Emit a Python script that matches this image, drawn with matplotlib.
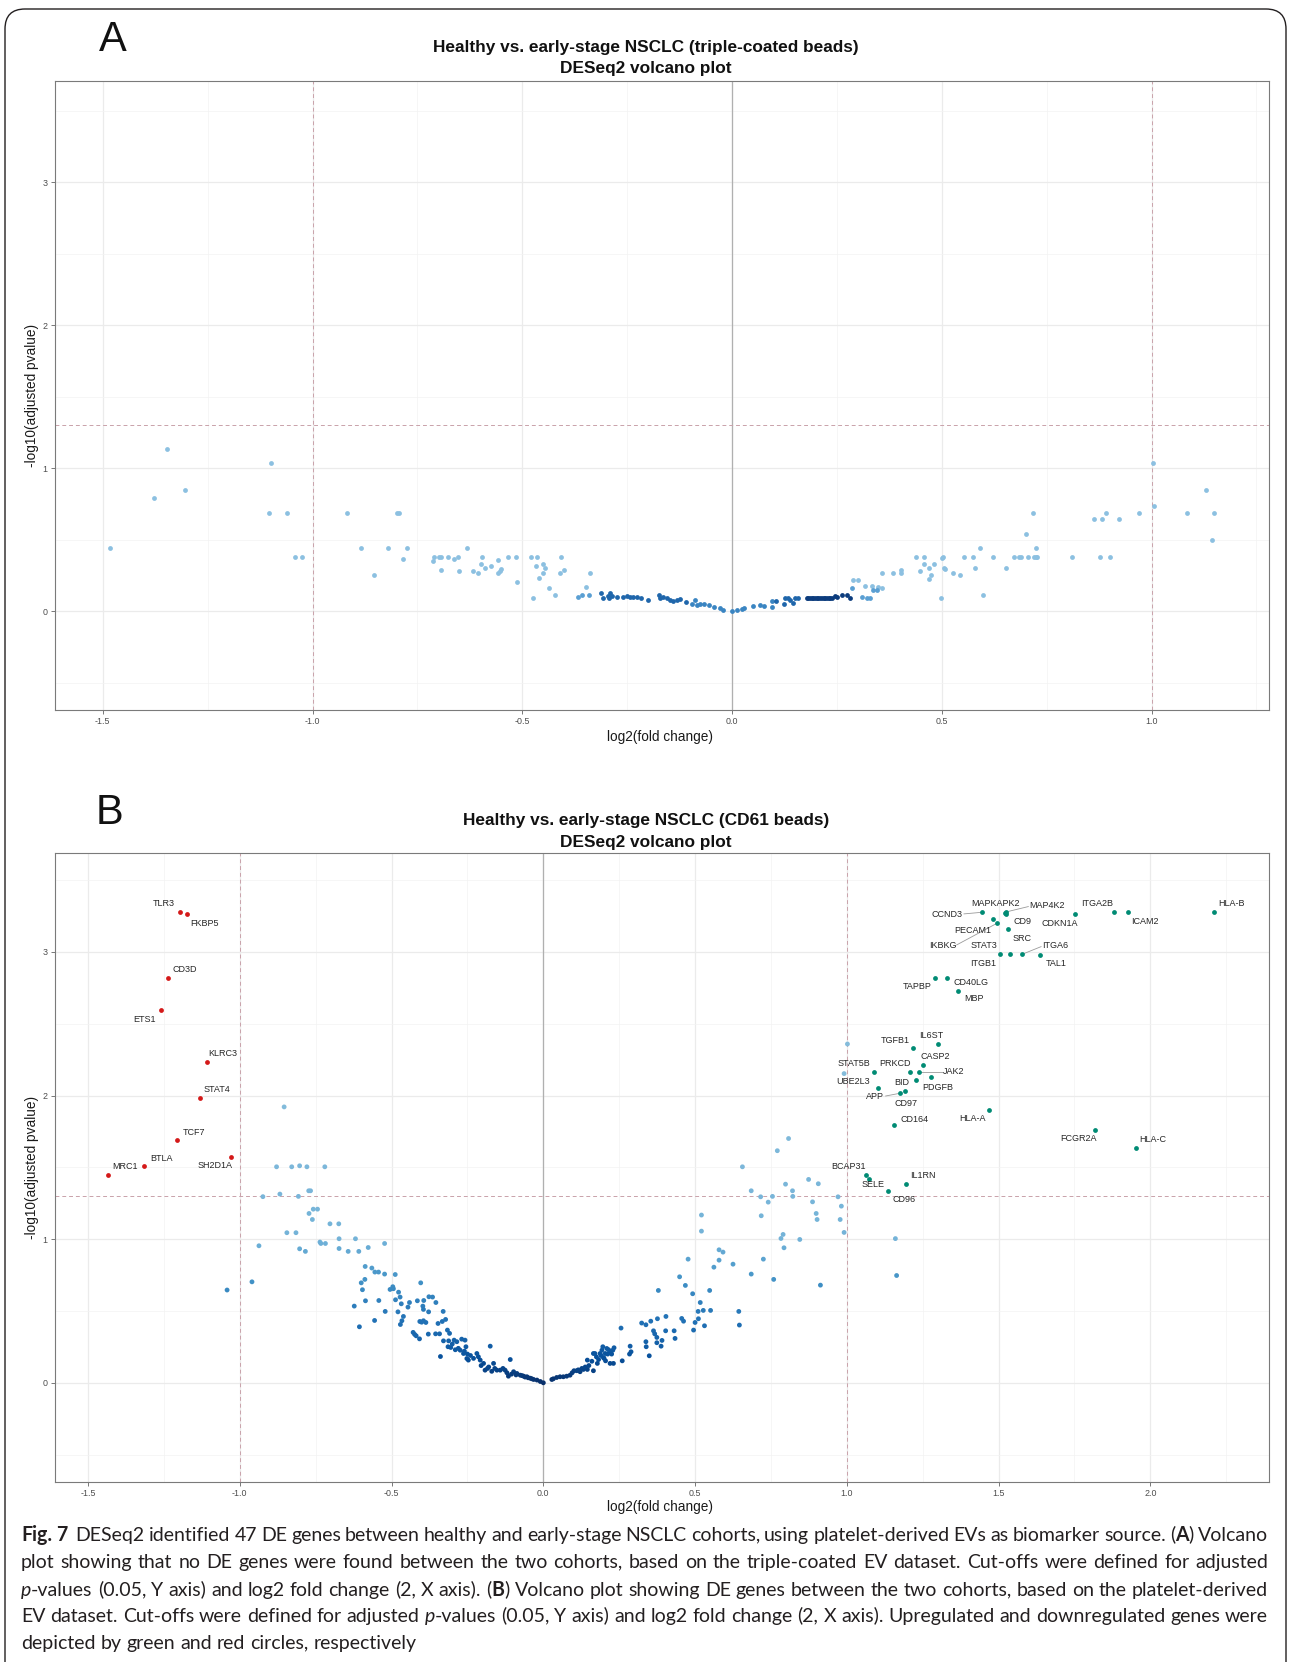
import re
import numpy as np
import matplotlib
matplotlib.use('Agg')
import matplotlib.pyplot as plt
from matplotlib.patches import FancyBboxPatch
from matplotlib.font_manager import FontProperties
from matplotlib.backends.backend_agg import get_hinting_flag

plt.rcParams['font.family'] = ['Liberation Sans', 'DejaVu Sans']
plt.rcParams['axes.unicode_minus'] = False

W, H = 1290, 1662

# ---------------- panel A: triple-coated beads (no DE genes) ----------------
a_light = [(-1.484, 0.443), (-1.378, 0.788), (-1.346, 1.131), (-1.304, 0.848), (-1.100, 1.037),
           (-1.103, 0.685), (-1.062, 0.685), (-1.042, 0.380), (-1.025, 0.380), (-0.919, 0.685),
           (-0.884, 0.443), (-0.853, 0.254), (-0.819, 0.443), (-0.799, 0.685), (-0.795, 0.685),
           (-0.775, 0.443), (-0.784, 0.366), (-0.713, 0.347), (-0.710, 0.380), (-0.698, 0.380),
           (-0.694, 0.380), (-0.695, 0.287), (-0.676, 0.380), (-0.664, 0.366), (-0.653, 0.380),
           (-0.650, 0.282), (-0.633, 0.443), (-0.617, 0.282), (-0.606, 0.266), (-0.595, 0.380),
           (-0.598, 0.326), (-0.588, 0.303), (-0.574, 0.315), (-0.557, 0.357), (-0.557, 0.266),
           (-0.553, 0.282), (-0.550, 0.291), (-0.534, 0.380), (-0.515, 0.380), (-0.512, 0.200),
           (-0.480, 0.380), (-0.465, 0.380), (-0.468, 0.315), (-0.475, 0.091), (-0.450, 0.326),
           (-0.447, 0.303), (-0.450, 0.266), (-0.461, 0.231), (-0.437, 0.163), (-0.423, 0.112),
           (-0.408, 0.380), (-0.411, 0.266), (-0.400, 0.289), (-0.349, 0.172), (-0.339, 0.266),
           (0.289, 0.214), (0.301, 0.214), (0.317, 0.177), (0.334, 0.177), (0.349, 0.172),
           (0.357, 0.163), (0.357, 0.263), (0.383, 0.266), (0.402, 0.289), (0.402, 0.266),
           (0.439, 0.380), (0.458, 0.380), (0.458, 0.331), (0.469, 0.303), (0.448, 0.282),
           (0.469, 0.226), (0.475, 0.254), (0.482, 0.331), (0.498, 0.091), (0.500, 0.368),
           (0.504, 0.380), (0.506, 0.303), (0.508, 0.294), (0.526, 0.266), (0.544, 0.254),
           (0.552, 0.380), (0.574, 0.380), (0.578, 0.303), (0.590, 0.443), (0.598, 0.112),
           (0.622, 0.380), (0.653, 0.303), (0.671, 0.380), (0.683, 0.380), (0.688, 0.380),
           (0.705, 0.380), (0.701, 0.541), (0.718, 0.685), (0.720, 0.380), (0.724, 0.380),
           (0.728, 0.380), (0.724, 0.443), (0.811, 0.380), (0.862, 0.643), (0.883, 0.643),
           (0.892, 0.685), (0.877, 0.380), (0.901, 0.380), (0.923, 0.643), (0.971, 0.685),
           (1.004, 1.033), (1.007, 0.737), (1.085, 0.685), (1.129, 0.848), (1.149, 0.685),
           (1.145, 0.494)]
a_edge = [(-0.368, 0.096), (-0.357, 0.112), (-0.342, 0.112), (0.285, 0.161), (0.309, 0.096),
          (0.321, 0.091), (0.329, 0.091), (0.335, 0.145), (0.345, 0.145)]
a_mid = [(-0.312, 0.126), (-0.307, 0.089), (-0.295, 0.103), (-0.291, 0.126), (-0.294, 0.089),
         (-0.287, 0.103), (-0.275, 0.098), (-0.259, 0.096), (-0.251, 0.107), (-0.243, 0.100),
         (-0.235, 0.096), (-0.227, 0.096), (-0.218, 0.093), (-0.201, 0.079), (-0.174, 0.112),
         (-0.172, 0.089), (-0.164, 0.096), (-0.156, 0.091), (-0.148, 0.075), (-0.140, 0.072),
         (-0.132, 0.079), (-0.124, 0.084), (-0.110, 0.061), (0.105, 0.070), (0.124, 0.049),
         (0.126, 0.089), (0.134, 0.089), (0.138, 0.079), (0.146, 0.054), (0.150, 0.089),
         (0.158, 0.091)]
a_center = [(-0.096, 0.051), (-0.088, 0.079), (-0.084, 0.040), (-0.076, 0.047), (-0.068, 0.051),
            (-0.054, 0.044), (-0.044, 0.028), (-0.029, 0.019), (-0.021, 0.009), (0.000, 0.000),
            (0.011, 0.007), (0.023, 0.016), (0.029, 0.019), (0.049, 0.033), (0.067, 0.040),
            (0.075, 0.033), (0.095, 0.068), (0.095, 0.028)]
a_dark = [(0.178, 0.089), (0.182, 0.090), (0.186, 0.091), (0.190, 0.092), (0.194, 0.093),
          (0.198, 0.091), (0.202, 0.089), (0.206, 0.090), (0.210, 0.091), (0.214, 0.092),
          (0.218, 0.091), (0.222, 0.090), (0.226, 0.089), (0.230, 0.090), (0.234, 0.091),
          (0.238, 0.093), (0.245, 0.103), (0.250, 0.097), (0.261, 0.110), (0.273, 0.114),
          (0.281, 0.091)]

# ---------------- panel B: CD61 beads ----------------
b_ns = [(-1.042, 0.646), (-0.960, 0.703), (-0.937, 0.954), (-0.924, 1.296), (-0.868, 1.314),
        (-0.807, 1.298), (-0.854, 1.921), (-0.879, 1.504), (-0.829, 1.504), (-0.803, 1.511),
        (-0.779, 1.504), (-0.720, 1.504), (-0.773, 1.337), (-0.767, 1.337), (-0.772, 1.179),
        (-0.758, 1.209), (-0.744, 1.209), (-0.761, 1.137), (-0.845, 1.045), (-0.815, 1.045),
        (-0.803, 0.933), (-0.784, 0.915), (-0.736, 0.980), (-0.733, 0.970), (-0.718, 0.970),
        (-0.703, 1.107), (-0.674, 1.107), (-0.673, 1.003), (-0.619, 1.003), (-0.673, 0.935),
        (-0.643, 0.915), (-0.608, 0.915), (-0.577, 0.942), (-0.523, 0.970),
        (-0.587, 0.810), (-0.565, 0.799), (-0.555, 0.771), (-0.543, 0.771), (-0.523, 0.757),
        (-0.488, 0.754), (-0.600, 0.696), (-0.588, 0.720), (-0.596, 0.648), (-0.586, 0.571),
        (-0.623, 0.534), (-0.606, 0.390), (-0.556, 0.434), (-0.542, 0.573), (-0.521, 0.497),
        (-0.505, 0.650), (-0.496, 0.669), (-0.494, 0.655), (-0.477, 0.631), (-0.472, 0.597),
        (-0.487, 0.578), (-0.468, 0.550), (-0.479, 0.494), (-0.461, 0.462), (-0.466, 0.432),
        (-0.471, 0.406), (-0.441, 0.559), (-0.446, 0.527), (-0.415, 0.571), (-0.404, 0.696),
        (-0.397, 0.534), (-0.395, 0.511), (-0.394, 0.573), (-0.377, 0.599), (-0.365, 0.597),
        (-0.354, 0.559), (-0.378, 0.494), (-0.407, 0.427), (-0.401, 0.422), (-0.387, 0.420),
        (-0.395, 0.432), (-0.429, 0.351), (-0.424, 0.337), (-0.419, 0.327), (-0.408, 0.306),
        (-0.379, 0.339), (-0.355, 0.341), (-0.342, 0.341), (-0.347, 0.413), (-0.330, 0.497),
        (-0.333, 0.427), (-0.322, 0.441), (-0.316, 0.367), (-0.309, 0.344), (-0.339, 0.183),
        (-0.329, 0.292), (-0.314, 0.251), (-0.312, 0.292), (-0.305, 0.246), (-0.294, 0.297),
        (-0.285, 0.286), (-0.269, 0.304), (-0.258, 0.297), (-0.255, 0.251), (-0.274, 0.227),
        (-0.263, 0.204), (-0.252, 0.169), (-0.247, 0.158), (-0.219, 0.204), (-0.214, 0.181),
        (-0.208, 0.158), (-0.197, 0.135), (-0.192, 0.088), (-0.184, 0.100), (-0.175, 0.255),
        (-0.164, 0.135), (-0.153, 0.088), (-0.142, 0.088), (-0.133, 0.100), (-0.126, 0.088),
        (-0.115, 0.046), (-0.109, 0.162), (-0.098, 0.077), (-0.087, 0.065), (-0.076, 0.053),
        (-0.065, 0.046), (-0.054, 0.042), (-0.043, 0.032), (-0.032, 0.023), (-0.021, 0.019),
        (-0.010, 0.009), (0.000, 0.000),
        (-0.300, 0.270), (-0.290, 0.230), (-0.280, 0.240), (-0.260, 0.220), (-0.250, 0.200),
        (-0.240, 0.190), (-0.230, 0.170), (-0.205, 0.120), (-0.180, 0.110), (-0.170, 0.080),
        (-0.160, 0.100), (-0.120, 0.070), (-0.105, 0.060), (-0.090, 0.055), (-0.070, 0.050),
        (-0.060, 0.040), (-0.050, 0.035), (-0.038, 0.028),
        (0.028, 0.023), (0.033, 0.028), (0.044, 0.037), (0.055, 0.042), (0.066, 0.042),
        (0.077, 0.046), (0.088, 0.053), (0.101, 0.084), (0.110, 0.084), (0.121, 0.077),
        (0.127, 0.100), (0.132, 0.093), (0.145, 0.093), (0.165, 0.084), (0.145, 0.158),
        (0.165, 0.204), (0.170, 0.204), (0.178, 0.135), (0.182, 0.162), (0.187, 0.204),
        (0.193, 0.227), (0.196, 0.251), (0.198, 0.176), (0.205, 0.153), (0.204, 0.204),
        (0.209, 0.239), (0.220, 0.216), (0.229, 0.227), (0.233, 0.244), (0.220, 0.135),
        (0.231, 0.135), (0.150, 0.120), (0.175, 0.180), (0.190, 0.190), (0.200, 0.170),
        (0.212, 0.200), (0.215, 0.230), (0.225, 0.200), (0.160, 0.150), (0.095, 0.070),
        (0.115, 0.090), (0.138, 0.110),
        (0.256, 0.381), (0.260, 0.153), (0.286, 0.255), (0.289, 0.216), (0.284, 0.200),
        (0.324, 0.416), (0.338, 0.404), (0.354, 0.429), (0.376, 0.446), (0.404, 0.462),
        (0.456, 0.448), (0.462, 0.429), (0.500, 0.420), (0.511, 0.446), (0.495, 0.367),
        (0.531, 0.397), (0.363, 0.362), (0.367, 0.341), (0.374, 0.316), (0.403, 0.362),
        (0.431, 0.362), (0.391, 0.295), (0.374, 0.279), (0.388, 0.255), (0.434, 0.309),
        (0.338, 0.286), (0.339, 0.251), (0.349, 0.188),
        (0.379, 0.643), (0.449, 0.738), (0.468, 0.678), (0.477, 0.861), (0.492, 0.620),
        (0.517, 0.559), (0.510, 0.497), (0.527, 0.504), (0.551, 0.504), (0.548, 0.643),
        (0.562, 0.805), (0.579, 0.926), (0.592, 0.910), (0.579, 0.854), (0.625, 0.826),
        (0.521, 1.168), (0.521, 1.056), (0.644, 0.497), (0.646, 0.402), (0.685, 0.757),
        (0.725, 0.861), (0.759, 0.720), (0.718, 1.163), (0.790, 1.033), (0.783, 1.005),
        (0.793, 0.940), (0.845, 0.998), (0.913, 0.680),
        (0.656, 1.504), (0.685, 1.337), (0.716, 1.295), (0.755, 1.298), (0.741, 1.258),
        (0.798, 1.383), (0.821, 1.337), (0.822, 1.298), (0.771, 1.616), (0.808, 1.701),
        (0.874, 1.416), (0.906, 1.386), (0.887, 1.260), (0.971, 1.295), (0.982, 1.230),
        (0.899, 1.179), (0.902, 1.137), (0.978, 1.137), (0.991, 1.047),
        (1.002, 2.359), (0.991, 2.153), (1.160, 1.004), (1.164, 0.747)]

down_genes = ['TLR3', 'FKBP5', 'CD3D', 'ETS1', 'KLRC3', 'STAT4', 'TCF7', 'SH2D1A', 'BTLA', 'MRC1']
down_x = [-1.196, -1.173, -1.236, -1.259, -1.109, -1.131, -1.206, -1.028, -1.315, -1.433]
down_y = [3.276, 3.265, 2.821, 2.594, 2.236, 1.981, 1.688, 1.575, 1.507, 1.449]
down_lx = [-1.252, -1.118, -1.180, -1.314, -1.056, -1.077, -1.150, -1.083, -1.259, -1.379]
down_ly = [3.334, 3.200, 2.879, 2.529, 2.294, 2.039, 1.744, 1.510, 1.563, 1.505]

up_genes = ['CCND3', 'MAPKAPK2', 'MAP4K2', 'PECAM1', 'IKBKG', 'CD9', 'SRC', 'STAT3', 'ITGB1',
            'ITGA6', 'TAL1', 'CDKN1A', 'ITGA2B', 'ICAM2', 'HLA-B', 'TAPBP', 'CD40LG', 'MBP',
            'TGFB1', 'IL6ST', 'CASP2', 'STAT5B', 'PRKCD', 'JAK2', 'PDGFB', 'BID', 'UBE2L3',
            'APP', 'CD97', 'CD164', 'HLA-A', 'FCGR2A', 'HLA-C', 'BCAP31', 'SELE', 'IL1RN', 'CD96']
up_x = [1.444, 1.520, 1.526, 1.482, 1.495, 1.524, 1.531, 1.504, 1.536,
        1.578, 1.638, 1.751, 1.880, 1.928, 2.211, 1.290, 1.330, 1.366,
        1.219, 1.300, 1.250, 1.091, 1.209, 1.238, 1.278, 1.227, 1.102,
        1.175, 1.192, 1.156, 1.470, 1.818, 1.953, 1.063, 1.074, 1.196, 1.134]
up_y = [3.276, 3.268, 3.279, 3.227, 3.200, 3.262, 3.158, 2.984, 2.984,
        2.984, 2.981, 3.265, 3.276, 3.276, 3.276, 2.821, 2.821, 2.728,
        2.329, 2.360, 2.215, 2.167, 2.167, 2.167, 2.127, 2.108, 2.055,
        2.016, 2.030, 1.793, 1.901, 1.758, 1.635, 1.445, 1.417, 1.387, 1.336]
up_lx = [1.331, 1.490, 1.659, 1.415, 1.315, 1.579, 1.576, 1.453, 1.449,
         1.686, 1.690, 1.702, 1.824, 1.982, 2.267, 1.233, 1.408, 1.419,
         1.159, 1.279, 1.290, 1.022, 1.160, 1.353, 1.298, 1.181, 1.021,
         1.093, 1.194, 1.222, 1.414, 1.763, 2.007, 1.006, 1.088, 1.252, 1.190]
up_ly = [3.262, 3.334, 3.323, 3.149, 3.042, 3.211, 3.095, 3.042, 2.921,
         3.042, 2.921, 3.200, 3.334, 3.211, 3.334, 2.759, 2.786, 2.673,
         2.385, 2.417, 2.275, 2.224, 2.224, 2.167, 2.055, 2.090, 2.101,
         1.993, 1.946, 1.830, 1.839, 1.698, 1.693, 1.503, 1.384, 1.445, 1.273]
# ggrepel segment start points (label side)
seg_start = {'CCND3': (1.386, 3.265), 'MAP4K2': (1.598, 3.316), 'IKBKG': (1.362, 3.049),
             'ITGA6': (1.640, 3.037), 'JAK2': (1.316, 2.167), 'APP': (1.128, 1.997)}

padj_cut = -np.log10(0.05)
fc_cut = 1.0

caption = [
    "**Fig.** **7**  DESeq2 identified 47 DE genes between healthy and early-stage NSCLC cohorts, using platelet-derived EVs as biomarker source. (**A**) Volcano",
    "plot showing that no DE genes were found between the two cohorts, based on the triple-coated EV dataset. Cut-offs were defined for adjusted",
    "*p*-values (0.05, Y axis) and log2 fold change (2, X axis). (**B**) Volcano plot showing DE genes between the two cohorts, based on the platelet-derived",
    "EV dataset. Cut-offs were defined for adjusted *p*-values (0.05, Y axis) and log2 fold change (2, X axis). Upregulated and downregulated genes were",
    "depicted by green and red circles, respectively",
]


def fx(px):
    return px / W


def fy(py):
    return 1 - py / H


def setup_panel(ax, xlim, ylim, xticks):
    ax.set_xlim(*xlim)
    ax.set_ylim(*ylim)
    ax.set_xticks(xticks)
    ax.set_xticklabels(['%.1f' % t for t in xticks])
    ax.set_yticks([0, 1, 2, 3])
    ax.set_yticklabels(['0', '1', '2', '3'])
    minor = np.arange(xticks[0] - 0.25, xlim[1], 0.5)
    ax.set_xticks(minor[minor > xlim[0]], minor=True)
    ax.set_yticks([-0.5, 0.5, 1.5, 2.5, 3.5], minor=True)
    ax.grid(which='major', color='#ebebeb', lw=0.9)
    ax.grid(which='minor', color='#f3f3f3', lw=0.5)
    ax.tick_params(which='minor', length=0)
    ax.tick_params(which='major', length=2.7, width=0.5, color='#444444',
                   labelsize=6.4, labelcolor='#4d4d4d', pad=2.5)
    for s in ax.spines.values():
        s.set_color('#7a7a7a')
        s.set_linewidth(0.8)
    ax.set_axisbelow(True)
    ax.axvline(0, color='#b0b0b0', lw=0.9, zorder=1)
    ax.axhline(padj_cut, color='#c9a2aa', lw=0.7, ls=(0, (4, 3)), zorder=1)
    ax.axvline(-fc_cut, color='#c9a2aa', lw=0.7, ls=(0, (4, 3)), zorder=1)
    ax.axvline(fc_cut, color='#c9a2aa', lw=0.7, ls=(0, (4, 3)), zorder=1)


def dots(ax, pts, colors):
    pts = np.array(pts)
    ax.scatter(pts[:, 0], pts[:, 1], s=12, c=colors, linewidths=0, zorder=3)


fig = plt.figure(figsize=(W / 100, H / 100), dpi=100)

# page frame
fig.patches.append(FancyBboxPatch((0.05, -0.3), 12.81, 16.83,
                                  boxstyle='round,pad=0,rounding_size=0.2',
                                  transform=fig.dpi_scale_trans, fill=False,
                                  edgecolor='#231f20', lw=1.0))

# ---- panel A ----
axA = fig.add_axes([fx(55), fy(710), fx(1269) - fx(55), fy(80.5) - fy(710)])
setup_panel(axA, (-1.614, 1.280), (-0.692, 3.712), [-1.5, -1.0, -0.5, 0.0, 0.5, 1.0])
dots(axA, a_light, '#8cc0e1')
dots(axA, a_edge, '#5a9fd3')
dots(axA, a_center, '#3a85c2')
dots(axA, a_mid, '#1f66ab')
dots(axA, a_dark, '#0c3c7d')

# ---- panel B ----
axB = fig.add_axes([fx(55), fy(1481.6), fx(1269) - fx(55), fy(853) - fy(1481.6)])
setup_panel(axB, (-1.609, 2.391), (-0.688, 3.689),
            [-1.5, -1.0, -0.5, 0.0, 0.5, 1.0, 1.5, 2.0])
b_arr = np.array(b_ns)
shade = np.interp(b_arr[:, 1], [0, 0.1, 0.3, 0.6, 1.0, 2.0], [1.0, 0.92, 0.8, 0.68, 0.48, 0.44])
dots(axB, b_ns, plt.cm.Blues(shade))
for g, px, py in zip(up_genes, up_x, up_y):
    if g in seg_start:
        sx, sy = seg_start[g]
        axB.plot([sx, px], [sy, py], color='#9a9a9a', lw=0.6, zorder=2)
axB.scatter(up_x, up_y, s=12, c='#008b74', linewidths=0, zorder=4)
axB.scatter(down_x, down_y, s=12, c='#d41919', linewidths=0, zorder=4)
for g, lx, ly in zip(up_genes + down_genes, up_lx + down_lx, up_ly + down_ly):
    axB.text(lx, ly, g, fontsize=6.5, color='#262626', ha='center', va='center', zorder=5)

# ---- titles and axis titles ----
for letter, (lx, ly) in zip('AB', [(113, 40), (109, 813)]):
    fig.text(fx(lx), fy(ly), letter, fontsize=30, ha='center', va='center', color='#111111')
titles = [("Healthy vs. early-stage NSCLC (triple-coated beads)", 51.8),
          ("DESeq2 volcano plot", 73.0),
          ("Healthy vs. early-stage NSCLC (CD61 beads)", 825.5),
          ("DESeq2 volcano plot", 846.7)]
for t, by in titles:
    fig.text(fx(646), fy(by), t, fontsize=12.4, fontweight='bold', ha='center',
             va='baseline', color='#111111')
for by in (737, 1507):
    fig.text(fx(660), fy(by), 'log2(fold change)', fontsize=9.8, ha='center', va='center',
             color='#1a1a1a')
for cy in (395, 1167):
    fig.text(fx(32), fy(cy), '-log10(adjusted pvalue)', fontsize=9.8, ha='center',
             va='center', rotation=90, color='#1a1a1a')

# ---- justified caption, word by word ----
CAP_FONT = ['Lato', 'Liberation Sans', 'DejaVu Sans']
renderer = fig.canvas.get_renderer()


def parse_word(w):
    segs = []
    for part in re.split(r'(\*\*[^*]+\*\*|\*[^*]+\*)', w):
        if not part:
            continue
        if part.startswith('**'):
            segs.append((part[2:-2], 'bold'))
        elif part.startswith('*'):
            segs.append((part[1:-1], 'italic'))
        else:
            segs.append((part, 'normal'))
    return segs


def fprop(style, fs):
    return FontProperties(family=CAP_FONT, size=fs,
                          weight='bold' if style == 'bold' else 'normal',
                          style='italic' if style == 'italic' else 'normal')


def seg_width(s, style, fs):
    t = fig.text(0, 0, s, fontproperties=fprop(style, fs))
    w = t.get_window_extent(renderer).width
    t.remove()
    return w


def raster_shift(s, style, fs, by):
    # Agg places each text bitmap with some integer rounding that depends on the
    # string's own ascent/descent; work out that offset so all words share a baseline
    font = renderer._prepare_font(fprop(style, fs))
    font.set_text(s, 0.0, flags=get_hinting_flag())
    _, h = font.get_width_height()
    d = font.get_descent()
    a = d / 64.0
    b = (h - d) / 64.0
    return (round(by + a) - by) + np.floor(b) + 1 - (h // 64) - 1


def split_line(line, fs):
    words, weights = [], []
    for tok in line.split(' '):
        if tok == '':
            weights[-1] += 1
        else:
            words.append([(s, st, seg_width(s, st, fs)) for s, st in parse_word(tok)])
            weights.append(1)
    return words, weights[:-1]


x0, x1 = 21, 1268
base = 13.0
sp = seg_width('a a', 'normal', base) - seg_width('aa', 'normal', base)
nat = []
for line in caption[:-1]:
    words, gaps = split_line(line, base)
    nat.append(sum(w for word in words for _, _, w in word) + sp * sum(gaps))
cap_fs = base * (x1 - x0) / np.mean(nat)

space_w = seg_width('a a', 'normal', cap_fs) - seg_width('aa', 'normal', cap_fs)
baselines = [1541, 1568, 1596, 1622, 1649]
for i, (line, by) in enumerate(zip(caption, baselines)):
    words, gaps = split_line(line, cap_fs)
    total = sum(w for word in words for _, _, w in word)
    unit = (x1 - x0 - total) / sum(gaps) if i < len(caption) - 1 else space_w
    x = x0
    for k, word in enumerate(words):
        for s, st, w in word:
            yb = by - raster_shift(s, st, cap_fs, by)
            fig.text(fx(x), fy(yb), s, ha='left', va='baseline', color='#231f20',
                     fontproperties=fprop(st, cap_fs))
            x += w
        if k < len(gaps):
            x += unit * gaps[k]

fig.savefig('out.png', dpi=100)
